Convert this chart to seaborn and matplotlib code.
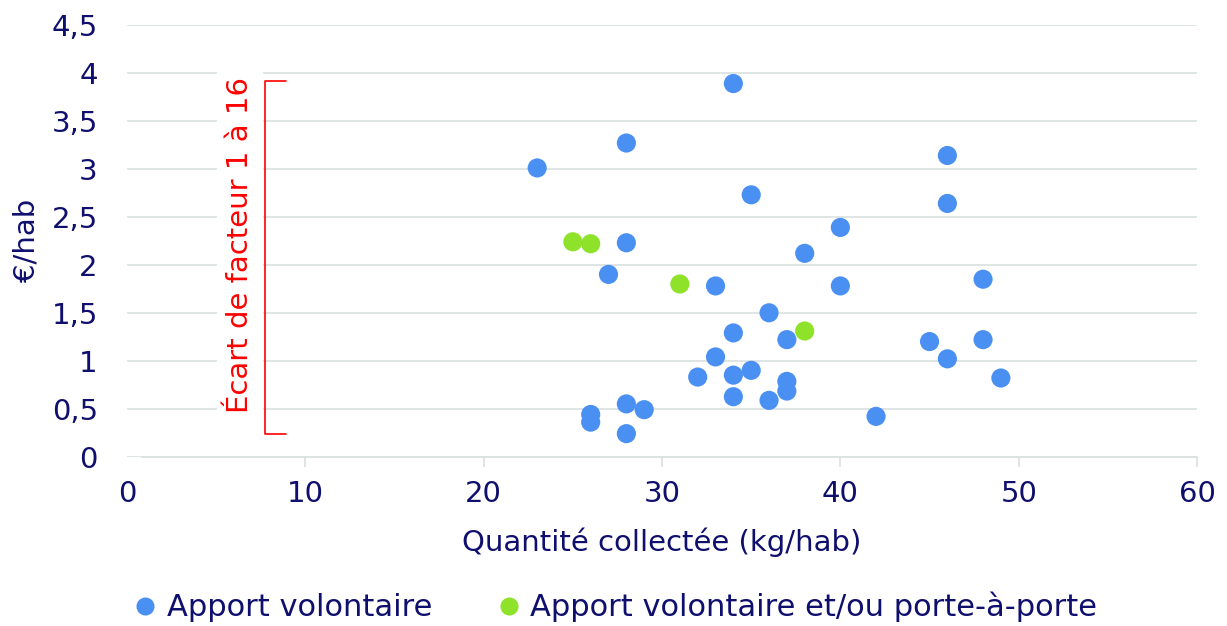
import matplotlib
matplotlib.use("Agg")
import matplotlib.pyplot as plt
from matplotlib.lines import Line2D
import seaborn as sns
import pandas as pd

# ---- data ----
series_names = ["Apport volontaire", "Apport volontaire et/ou porte-à-porte"]

av_x = [34, 28, 23, 35, 28, 40, 38, 27, 33, 40, 36, 34, 37, 33, 32, 34, 35,
        37, 37, 34, 36, 26, 26, 28, 29, 28, 42, 46, 46, 48, 45, 48, 46, 49]
av_y = [3.89, 3.27, 3.01, 2.73, 2.23, 2.39, 2.12, 1.90, 1.78, 1.78, 1.50, 1.29,
        1.22, 1.04, 0.83, 0.85, 0.90, 0.785, 0.684, 0.625, 0.587, 0.44, 0.36,
        0.55, 0.49, 0.24, 0.42, 3.14, 2.64, 1.85, 1.20, 1.22, 1.02, 0.82]

pap_x = [25, 26, 31, 38]
pap_y = [2.24, 2.22, 1.80, 1.31]

x_ticks = [0, 10, 20, 30, 40, 50, 60]
y_ticks = [0, 0.5, 1, 1.5, 2, 2.5, 3, 3.5, 4, 4.5]
y_tick_labels = ["0", "0,5", "1", "1,5", "2", "2,5", "3", "3,5", "4", "4,5"]

x_label = "Quantité collectée (kg/hab)"
y_label = "€/hab"
annot_text = "Écart de facteur 1 à 16"
annot_range = [0.236, 3.917]  # bracket extent (€/hab)

# ---- style ----
blue = "#4A90F2"
green = "#8EE22A"
navy = "#0F0F6E"
grid_c = "#DCE2E2"
FS = 21

sns.set_theme(style="white")
plt.rcParams["font.family"] = ["DejaVu Sans"]

df = pd.DataFrame({
    "x": av_x + pap_x,
    "y": av_y + pap_y,
    "type": [series_names[0]] * len(av_x) + [series_names[1]] * len(pap_x),
})

fig = plt.figure(figsize=(12.27, 6.26), dpi=100)
ax = fig.add_axes([0.1035, 0.2705, 0.9756 - 0.1035, 0.960 - 0.2705])

sns.scatterplot(data=df, x="x", y="y", hue="type", hue_order=series_names,
                palette={series_names[0]: blue, series_names[1]: green},
                s=190, linewidth=0, ax=ax, legend=False, zorder=3)

ax.set_xlim(0, 60)
ax.set_ylim(0, 4.5)
ax.set_xticks(x_ticks)
ax.set_xticklabels([str(t) for t in x_ticks])
ax.set_yticks(y_ticks)
ax.set_yticklabels(y_tick_labels)

ax.set_axisbelow(True)
ax.yaxis.grid(True, color=grid_c, linewidth=1.3)
ax.xaxis.grid(False)
for s in ["top", "right", "left"]:
    ax.spines[s].set_visible(False)
ax.spines["bottom"].set_color(grid_c)
ax.spines["bottom"].set_linewidth(1.3)
ax.spines["bottom"].set_bounds(0.85, 60)

ax.tick_params(axis="x", which="major", direction="out", length=7, width=1.3,
               color=grid_c, pad=10, labelsize=FS, labelcolor=navy, bottom=True)
ax.tick_params(axis="y", length=0, pad=21, labelsize=FS, labelcolor=navy)
ax.xaxis.get_major_ticks()[0].tick1line.set_visible(False)

ax.set_xlabel(x_label, fontsize=FS, color=navy, labelpad=14)
ax.set_ylabel(y_label, fontsize=FS, color=navy, labelpad=8)

# annotation: red text with white box and bracket
ax.text(6.34, 2.205, annot_text, rotation=90, ha="center", va="center",
        fontsize=FS, color="#FF0000", zorder=4,
        bbox=dict(boxstyle="square,pad=0.3", fc="white", ec="none"))
bx0, bx1 = 7.74, 8.92
ax.plot([bx1, bx0, bx0, bx1],
        [annot_range[1], annot_range[1], annot_range[0], annot_range[0]],
        color="#FF0000", linewidth=1.2, solid_joinstyle="round", zorder=5)

# legend
handles = [Line2D([0], [0], marker="o", linestyle="none", markersize=13,
                  markerfacecolor=c, markeredgewidth=0)
           for c in (blue, green)]
leg = fig.legend(handles, series_names, loc="center", bbox_to_anchor=(0.5, 0.03),
                 ncol=2, frameon=False, fontsize=22, handlelength=1.0,
                 handletextpad=0.2, columnspacing=2.0)
for t in leg.get_texts():
    t.set_color(navy)

fig.savefig("out.png", dpi=100)
